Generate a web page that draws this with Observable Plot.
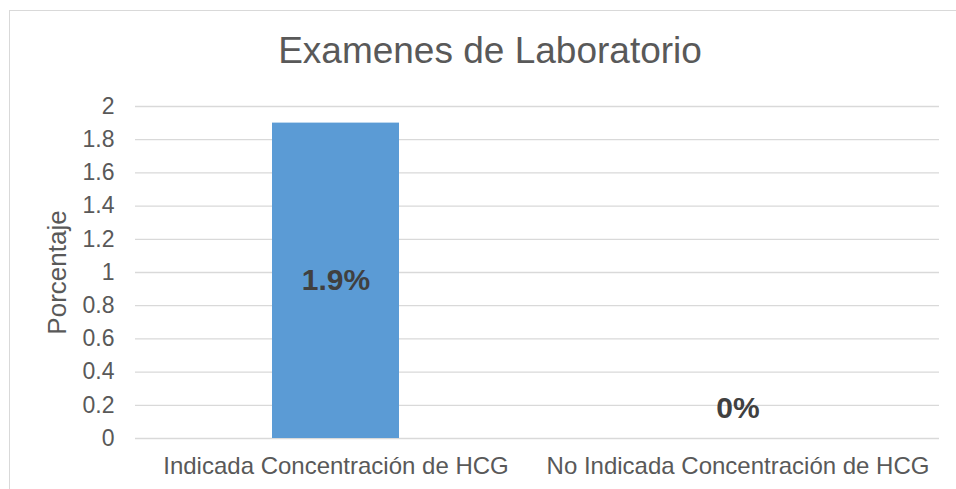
<!DOCTYPE html>
<html>
<head>
<meta charset="utf-8">
<script src="https://cdn.jsdelivr.net/npm/d3@7"></script>
<script src="https://cdn.jsdelivr.net/npm/@observablehq/plot@0.6"></script>
<style>
  html, body { margin: 0; padding: 0; background: #fff; overflow: hidden; }
  body { width: 956px; height: 489px; position: relative; font-family: "Liberation Sans", Arial, sans-serif; }
  #frame { position: absolute; left: 9px; top: 10px; width: 960px; height: 500px; border: 1px solid #d9d9d9; box-sizing: border-box; }
  #title { position: absolute; left: 0; top: 32px; width: 980px; text-align: center; font-size: 37px; line-height: 37px; color: #595959; white-space: nowrap; }
  #chart { position: absolute; left: 0; top: 80px; }
</style>
</head>
<body>
<div id="frame"></div>
<div id="title">Examenes de Laboratorio</div>
<div id="chart"></div>
<script>
const categories = ["Indicada Concentración de HCG", "No Indicada Concentración de HCG"];
const values = [1.9, 0];
const valueLabels = ["1.9%", "0%"];
const yTicks = [0, 0.2, 0.4, 0.6, 0.8, 1, 1.2, 1.4, 1.6, 1.8, 2];
const yTickLabels = ["0", "0.2", "0.4", "0.6", "0.8", "1", "1.2", "1.4", "1.6", "1.8", "2"];
const yTitle = "Porcentaje";

const data = categories.map((c, i) => ({category: c, value: values[i], label: valueLabels[i]}));

const chart = Plot.plot({
  width: 956,
  height: 409,
  marginTop: 26,
  marginBottom: 51,
  marginLeft: 135,
  marginRight: 17,
  style: {fontFamily: '"Liberation Sans", Arial, sans-serif', background: "transparent", overflow: "visible"},
  x: {domain: categories, paddingInner: 0.684, paddingOuter: 0.342, label: null},
  y: {domain: [0, 2], label: null},
  marks: [
    Plot.gridY(yTicks, {stroke: "#d9d9d9", strokeOpacity: 1, strokeWidth: 1.3}),
    Plot.barY(data, {x: "category", y: "value", fill: "#5b9bd5"}),
    Plot.axisY(yTicks, {tickSize: 0, tickPadding: 21, fontSize: 23, fill: "#595959",
      tickFormat: (d) => yTickLabels[yTicks.indexOf(d)], label: null}),
    Plot.axisX({tickSize: 0, tickPadding: 18, fontSize: 24, fill: "#595959", label: null}),
    Plot.text(data.filter(d => d.value > 0), {x: "category", y: d => d.value / 2, text: "label",
      fontSize: 30, fontWeight: "bold", fill: "#404040"}),
    Plot.text(data.filter(d => d.value === 0), {x: "category", y: "value", text: "label", dy: -30,
      fontSize: 30, fontWeight: "bold", fill: "#404040"}),
    Plot.text([yTitle], {frameAnchor: "left", dx: -70, rotate: -90, textAnchor: "middle", lineAnchor: "bottom",
      fontSize: 26, fill: "#595959"})
  ]
});
document.getElementById("chart").appendChild(chart);
</script>
</body>
</html>
